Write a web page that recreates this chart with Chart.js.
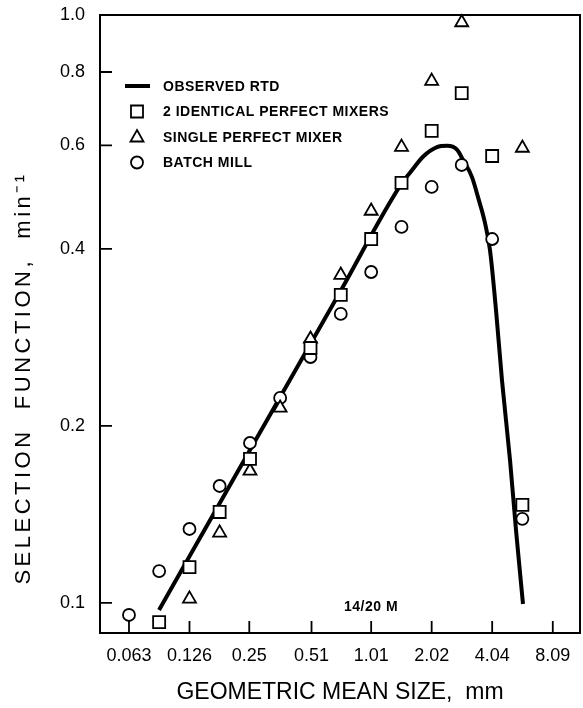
<!DOCTYPE html>
<html>
<head>
<meta charset="utf-8">
<script src="https://cdn.jsdelivr.net/npm/chart.js@4/dist/chart.umd.min.js"></script>
<style>
  body { margin: 0; background: #fff; }
  canvas { display: block; }
</style>
</head>
<body>
<canvas id="chart" width="583" height="708"></canvas>
<script>
// geometric mean size of each sieve class, mm
var sizes = [0.063, 0.089, 0.126, 0.178, 0.252, 0.356, 0.504, 0.713, 1.01, 1.43, 2.02, 2.85, 4.04, 5.71];
// selection function, min^-1 (null = no point)
var twoMixers   = [null, 0.0928, 0.1151, 0.1428, 0.1758, null, 0.2714, 0.3341, 0.4159, 0.518, 0.635, 0.7366, 0.5757, 0.1468];
var singleMixer = [null, null, 0.1016, 0.1316, 0.1677, 0.2146, 0.2812, 0.3612, 0.4641, 0.5961, 0.772, 0.971, null, 0.594];
var batchMill   = [0.0954, 0.1133, 0.1336, 0.1581, 0.1871, 0.2232, 0.2620, 0.3101, 0.3655, 0.4361, 0.5100, 0.5558, 0.4159, 0.1390];

// observed RTD curve
var rtdX = [0.0889, 0.252, 0.707, 1.438, 1.576, 1.829, 2.147, 2.408, 2.700, 2.892, 3.206, 3.435, 3.721, 3.941, 4.221, 4.522, 4.956, 5.308, 5.751];
var rtdY = [0.0973, 0.182, 0.338, 0.518, 0.539, 0.574, 0.596, 0.599, 0.590, 0.567, 0.530, 0.490, 0.443, 0.398, 0.315, 0.239, 0.175, 0.133, 0.0996];

var xTicks = [0.063, 0.126, 0.25, 0.51, 1.01, 2.02, 4.04, 8.09];
var xTickLabels = ['0.063', '0.126', '0.25', '0.51', '1.01', '2.02', '4.04', '8.09'];
var yTicks = [0.1, 0.2, 0.4, 0.6, 0.8, 1.0];
var yTickLabels = ['0.1', '0.2', '0.4', '0.6', '0.8', '1.0'];

var legendItems = [
  { label: 'OBSERVED RTD', style: 'line' },
  { label: '2 IDENTICAL PERFECT MIXERS', style: 'rect' },
  { label: 'SINGLE PERFECT MIXER', style: 'triangle' },
  { label: 'BATCH MILL', style: 'circle' }
];

var FONT = '"Liberation Sans", Arial, sans-serif';

function toPoints(xs, ys) {
  var out = [];
  for (var i = 0; i < xs.length; i++) {
    if (ys[i] !== null) out.push({ x: xs[i], y: ys[i] });
  }
  return out;
}

function markerSet(label, values, style, radius) {
  return {
    label: label,
    data: toPoints(sizes, values),
    pointStyle: style,
    pointRadius: radius,
    pointBorderWidth: 1.8,
    pointBorderColor: '#000',
    pointBackgroundColor: '#fff',
    showLine: false,
    clip: false,
    order: 1
  };
}

function drawMarker(ctx, style, x, y) {
  ctx.beginPath();
  if (style === 'rect') {
    ctx.rect(x - 6, y - 6, 12, 12);
  } else if (style === 'triangle') {
    ctx.moveTo(x, y - 7);
    ctx.lineTo(x + 6.5, y + 4.5);
    ctx.lineTo(x - 6.5, y + 4.5);
    ctx.closePath();
  } else {
    ctx.arc(x, y, 6, 0, Math.PI * 2);
  }
  ctx.stroke();
}

// keep label overhang from shrinking the plot box
function noOverhang(scale) {
  scale.paddingTop = 0;
  scale.paddingBottom = 0;
  scale.paddingLeft = 0;
  scale.paddingRight = 0;
}

// box round the plot and tick marks pointing inwards
var framePlugin = {
  id: 'frame',
  beforeDatasetsDraw: function(chart) {
    var ctx = chart.ctx, a = chart.chartArea;
    var xs = chart.scales.x, ys = chart.scales.y;
    ctx.save();
    ctx.strokeStyle = '#000';
    ctx.lineWidth = 2;
    ctx.strokeRect(a.left, a.top, a.right - a.left, a.bottom - a.top);
    ctx.lineWidth = 1.8;
    ctx.beginPath();
    xs.ticks.forEach(function(t) {
      var px = xs.getPixelForValue(t.value);
      ctx.moveTo(px, a.bottom);
      ctx.lineTo(px, a.bottom - 12);
    });
    ys.ticks.forEach(function(t) {
      var py = ys.getPixelForValue(t.value);
      ctx.moveTo(a.left, py);
      ctx.lineTo(a.left + 12, py);
    });
    ctx.stroke();
    ctx.restore();
  },
  afterDraw: function(chart) {
    var ctx = chart.ctx, a = chart.chartArea;
    var spacing = 'letterSpacing' in ctx;
    ctx.save();
    ctx.fillStyle = '#000';
    ctx.strokeStyle = '#000';

    // legend
    var lx = a.left + 37, ly = a.top + 71, rowGap = 25.5;
    ctx.font = 'bold 14px ' + FONT;
    if (spacing) ctx.letterSpacing = '0.5px';
    ctx.textBaseline = 'middle';
    ctx.textAlign = 'left';
    legendItems.forEach(function(item, i) {
      var y = ly + i * rowGap;
      if (item.style === 'line') {
        ctx.lineWidth = 4;
        ctx.beginPath();
        ctx.moveTo(lx - 12, y);
        ctx.lineTo(lx + 13, y);
        ctx.stroke();
      } else {
        ctx.lineWidth = 1.8;
        drawMarker(ctx, item.style, lx, y);
      }
      ctx.fillText(item.label, lx + 26, y + 1);
    });

    // size class note
    ctx.textAlign = 'center';
    ctx.fillText('14/20 M', 371, 607);

    // y axis title
    ctx.font = '22px ' + FONT;
    ctx.translate(24, 378);
    ctx.rotate(-Math.PI / 2);
    if (spacing) ctx.letterSpacing = '3.5px';
    ctx.textAlign = 'center';
    ctx.fillText('SELECTION  FUNCTION,  min\u207B\u00B9', 0, 0);
    ctx.restore();
  }
};

var ctx = document.getElementById('chart').getContext('2d');
var chart = new Chart(ctx, {
  type: 'scatter',
  data: {
    datasets: [
      markerSet('2 IDENTICAL PERFECT MIXERS', twoMixers, 'rect', 8.5),
      markerSet('SINGLE PERFECT MIXER', singleMixer, 'triangle', 7.5),
      markerSet('BATCH MILL', batchMill, 'circle', 6),
      {
        label: 'OBSERVED RTD',
        data: toPoints(rtdX, rtdY),
        showLine: true,
        borderColor: '#000',
        borderWidth: 4,
        pointRadius: 0,
        cubicInterpolationMode: 'monotone',
        clip: false,
        order: 10
      }
    ]
  },
  options: {
    responsive: false,
    animation: false,
    devicePixelRatio: 1,
    layout: { autoPadding: false, padding: { top: 15, right: 3, left: 0, bottom: 0 } },
    plugins: {
      legend: { display: false },
      tooltip: { enabled: false }
    },
    scales: {
      x: {
        type: 'logarithmic',
        min: 0.0452,
        max: 11.05,
        grid: { display: false, drawTicks: false },
        border: { display: false },
        afterBuildTicks: function(scale) {
          scale.ticks = xTicks.map(function(v) { return { value: v }; });
        },
        afterFit: function(scale) { scale.height = 75; noOverhang(scale); },
        ticks: {
          autoSkip: false,
          maxRotation: 0,
          padding: 12,
          color: '#000',
          font: { family: FONT, size: 18 },
          callback: function(value, index) { return xTickLabels[index]; }
        },
        title: {
          display: true,
          text: 'GEOMETRIC MEAN SIZE,  mm',
          color: '#000',
          font: { family: FONT, size: 23 },
          padding: { top: 0, bottom: 2 }
        }
      },
      y: {
        type: 'logarithmic',
        min: 0.0889,
        max: 1.0,
        grid: { display: false, drawTicks: false },
        border: { display: false },
        afterBuildTicks: function(scale) {
          scale.ticks = yTicks.map(function(v) { return { value: v }; });
        },
        afterFit: function(scale) { scale.width = 100; noOverhang(scale); },
        ticks: {
          autoSkip: false,
          padding: 15,
          color: '#000',
          font: { family: FONT, size: 18 },
          callback: function(value, index) { return yTickLabels[index]; }
        }
      }
    }
  },
  plugins: [framePlugin]
});
</script>
</body>
</html>
